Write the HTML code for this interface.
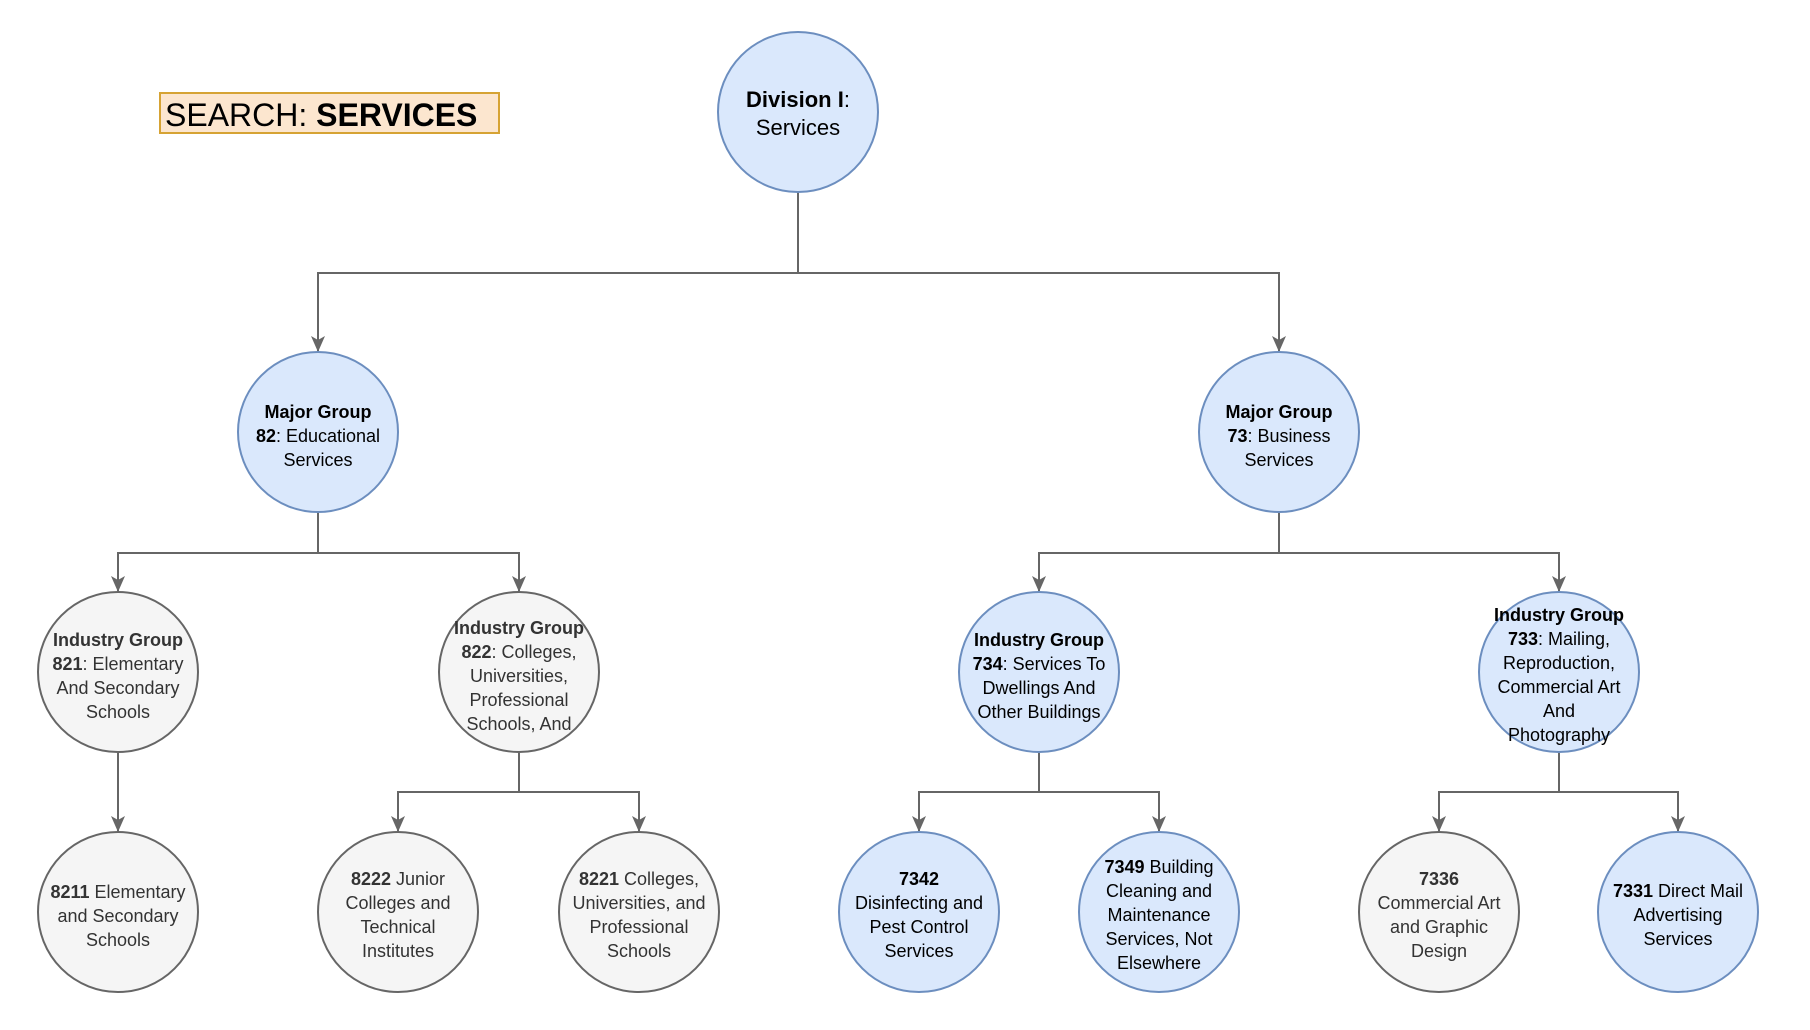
<!DOCTYPE html>
<html><head><meta charset="utf-8"><style>
html,body{margin:0;padding:0;background:#fff;width:1810px;height:1030px;overflow:hidden}
svg{display:block}
text{font-family:"Liberation Sans",Arial,sans-serif;font-size:18px;text-anchor:middle}
.b{font-weight:bold}
.g text{fill:#333}
</style></head><body>
<svg width="1810" height="1030" viewBox="0 0 1810 1030" xmlns="http://www.w3.org/2000/svg">
<defs>
<marker id="a" markerWidth="18" markerHeight="16" refX="15" refY="7" orient="auto" markerUnits="userSpaceOnUse">
<path d="M0,0 L16,7 L0,14 L4,7 Z" fill="#666"/>
</marker>
</defs>
<rect x="160" y="93" width="339" height="40" fill="#fce6cf" stroke="#d6a334" stroke-width="2"/>
<text x="165" y="126" style="text-anchor:start;font-size:32px" fill="#000">SEARCH: <tspan class="b">SERVICES</tspan></text>

<g fill="none" stroke="#666" stroke-width="2">
<path d="M798,192 V273 H318 V351" marker-end="url(#a)"/>
<path d="M798,273 H1279 V351" marker-end="url(#a)"/>
<path d="M318,512 V553 H118 V591" marker-end="url(#a)"/>
<path d="M318,553 H519 V591" marker-end="url(#a)"/>
<path d="M1279,512 V553 H1039 V591" marker-end="url(#a)"/>
<path d="M1279,553 H1559 V591" marker-end="url(#a)"/>
<path d="M118,753 V831" marker-end="url(#a)"/>
<path d="M519,753 V792 H398 V831" marker-end="url(#a)"/>
<path d="M519,792 H639 V831" marker-end="url(#a)"/>
<path d="M1039,753 V792 H919 V831" marker-end="url(#a)"/>
<path d="M1039,792 H1159 V831" marker-end="url(#a)"/>
<path d="M1559,753 V792 H1439 V831" marker-end="url(#a)"/>
<path d="M1559,792 H1678 V831" marker-end="url(#a)"/>
</g>

<g stroke-width="2">
<circle cx="798" cy="112" r="80" fill="#dae8fc" stroke="#6c8ebf"/>
<circle cx="318" cy="432" r="80" fill="#dae8fc" stroke="#6c8ebf"/>
<circle cx="1279" cy="432" r="80" fill="#dae8fc" stroke="#6c8ebf"/>
<circle cx="118" cy="672" r="80" fill="#f5f5f5" stroke="#666"/>
<circle cx="519" cy="672" r="80" fill="#f5f5f5" stroke="#666"/>
<circle cx="1039" cy="672" r="80" fill="#dae8fc" stroke="#6c8ebf"/>
<circle cx="1559" cy="672" r="80" fill="#dae8fc" stroke="#6c8ebf"/>
<circle cx="118" cy="912" r="80" fill="#f5f5f5" stroke="#666"/>
<circle cx="398" cy="912" r="80" fill="#f5f5f5" stroke="#666"/>
<circle cx="639" cy="912" r="80" fill="#f5f5f5" stroke="#666"/>
<circle cx="919" cy="912" r="80" fill="#dae8fc" stroke="#6c8ebf"/>
<circle cx="1159" cy="912" r="80" fill="#dae8fc" stroke="#6c8ebf"/>
<circle cx="1439" cy="912" r="80" fill="#f5f5f5" stroke="#666"/>
<circle cx="1678" cy="912" r="80" fill="#dae8fc" stroke="#6c8ebf"/>
</g>

<g fill="#000">
<text x="798" y="107" style="font-size:22px"><tspan class="b">Division I</tspan>:</text>
<text x="798" y="135" style="font-size:22px">Services</text>

<text x="318" y="418" class="b">Major Group</text>
<text x="318" y="442"><tspan class="b">82</tspan>: Educational</text>
<text x="318" y="466">Services</text>

<text x="1279" y="418" class="b">Major Group</text>
<text x="1279" y="442"><tspan class="b">73</tspan>: Business</text>
<text x="1279" y="466">Services</text>

<text x="1039" y="646" class="b">Industry Group</text>
<text x="1039" y="670"><tspan class="b">734</tspan>: Services To</text>
<text x="1039" y="694">Dwellings And</text>
<text x="1039" y="718">Other Buildings</text>

<text x="1559" y="621" class="b">Industry Group</text>
<text x="1559" y="645"><tspan class="b">733</tspan>: Mailing,</text>
<text x="1559" y="669">Reproduction,</text>
<text x="1559" y="693">Commercial Art</text>
<text x="1559" y="717">And</text>
<text x="1559" y="741">Photography</text>

<text x="919" y="885" class="b">7342</text>
<text x="919" y="909">Disinfecting and</text>
<text x="919" y="933">Pest Control</text>
<text x="919" y="957">Services</text>

<text x="1159" y="873"><tspan class="b">7349</tspan> Building</text>
<text x="1159" y="897">Cleaning and</text>
<text x="1159" y="921">Maintenance</text>
<text x="1159" y="945">Services, Not</text>
<text x="1159" y="969">Elsewhere</text>

<text x="1678" y="897"><tspan class="b">7331</tspan> Direct Mail</text>
<text x="1678" y="921">Advertising</text>
<text x="1678" y="945">Services</text>
</g>

<g class="g">
<text x="118" y="646" class="b">Industry Group</text>
<text x="118" y="670"><tspan class="b">821</tspan>: Elementary</text>
<text x="118" y="694">And Secondary</text>
<text x="118" y="718">Schools</text>

<text x="519" y="634" class="b">Industry Group</text>
<text x="519" y="658"><tspan class="b">822</tspan>: Colleges,</text>
<text x="519" y="682">Universities,</text>
<text x="519" y="706">Professional</text>
<text x="519" y="730">Schools, And</text>

<text x="118" y="898"><tspan class="b">8211</tspan> Elementary</text>
<text x="118" y="922">and Secondary</text>
<text x="118" y="946">Schools</text>

<text x="398" y="885"><tspan class="b">8222</tspan> Junior</text>
<text x="398" y="909">Colleges and</text>
<text x="398" y="933">Technical</text>
<text x="398" y="957">Institutes</text>

<text x="639" y="885"><tspan class="b">8221</tspan> Colleges,</text>
<text x="639" y="909">Universities, and</text>
<text x="639" y="933">Professional</text>
<text x="639" y="957">Schools</text>

<text x="1439" y="885" class="b">7336</text>
<text x="1439" y="909">Commercial Art</text>
<text x="1439" y="933">and Graphic</text>
<text x="1439" y="957">Design</text>
</g>
</svg>
</body></html>
